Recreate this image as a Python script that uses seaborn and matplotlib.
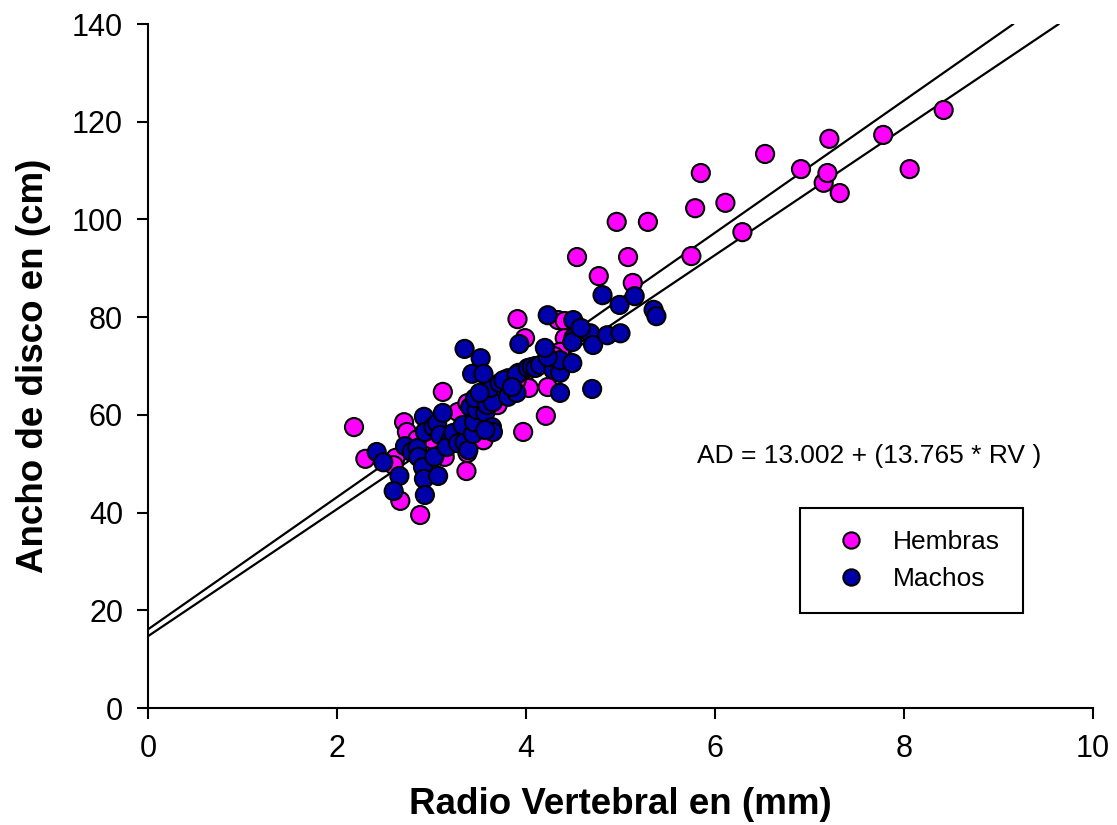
import pandas as pd
import seaborn as sns
import matplotlib.pyplot as plt
from matplotlib.patches import Rectangle

# Hembras (females)
hembras_rv = [2.18, 2.30, 2.67, 2.88, 2.71, 2.74, 2.62, 2.60, 3.12, 3.37, 3.28, 3.38,
              3.14, 3.38, 2.98, 3.55, 3.91, 3.97, 3.99, 4.03, 4.23, 4.21, 4.34, 4.41,
              4.41, 4.36, 4.54, 4.77, 4.96, 5.08, 5.13, 5.29, 5.75, 5.79, 5.85, 6.11,
              6.29, 6.53, 6.91, 7.15, 7.19, 7.21, 7.32, 7.78, 8.06, 8.42,
              3.20, 3.00, 3.50, 3.70, 4.10, 4.30, 3.90, 2.85, 3.45, 4.60]
hembras_ad = [57.5, 51.0, 42.4, 39.5, 58.5, 56.5, 51.2, 49.7, 64.7, 48.5, 60.6, 62.4,
              51.4, 52.2, 52.8, 54.8, 79.6, 56.5, 75.7, 65.5, 65.7, 59.8, 79.4, 79.2,
              75.7, 72.9, 92.3, 88.4, 99.5, 92.3, 87.0, 99.5, 92.5, 102.3, 109.5, 103.4,
              97.4, 113.4, 110.3, 107.5, 109.5, 116.5, 105.4, 117.3, 110.3, 122.4,
              54.0, 55.0, 58.0, 62.0, 70.0, 72.0, 67.0, 55.0, 57.0, 77.0]

# Machos (males)
machos_rv = [2.42, 2.49, 2.66, 2.60, 2.72, 2.79, 2.85, 2.86, 2.91, 2.92, 2.93, 2.92,
             2.93, 3.07, 3.03, 3.02, 3.06, 3.12, 3.09, 3.20, 3.16, 3.23, 3.28, 3.35,
             3.39, 3.33, 3.44, 3.45, 3.41, 3.48, 3.46, 3.55, 3.57, 3.59, 3.65, 3.62,
             3.51, 3.64, 3.65, 3.57, 3.35, 3.52, 3.43, 3.55, 3.72, 3.81, 3.76, 3.92,
             3.90, 4.02, 4.06, 4.10, 4.15, 4.29, 4.36, 4.36, 4.23, 4.20, 4.49, 3.81,
             3.90, 3.85, 3.93, 4.36, 4.70, 4.23, 4.50, 4.50, 4.49, 4.68, 4.71, 4.86,
             5.00, 4.81, 4.99, 5.15, 5.35, 5.38, 4.58]
machos_ad = [52.4, 50.3, 47.5, 44.4, 53.6, 52.4, 53.2, 51.4, 49.3, 46.9, 43.6, 59.6,
             56.5, 47.5, 51.4, 57.5, 58.3, 60.4, 55.9, 54.9, 53.4, 56.3, 54.2, 54.4,
             52.8, 57.9, 56.1, 58.5, 61.6, 61.0, 63.4, 64.1, 60.4, 62.0, 62.6, 65.5,
             64.5, 57.5, 56.5, 56.9, 73.5, 71.6, 68.4, 68.4, 66.5, 67.5, 67.1, 68.6,
             68.2, 69.6, 69.8, 69.6, 70.2, 69.2, 68.6, 71.2, 71.8, 73.7, 70.6, 63.7,
             64.5, 65.7, 74.5, 64.5, 65.3, 80.4, 79.4, 75.7, 74.9, 76.7, 74.3, 76.3,
             76.7, 84.5, 82.5, 84.3, 81.5, 80.2, 77.8]

# regression lines (intercept, slope)
line_intercepts = [16.1, 14.7]
line_slopes = [13.53, 13.0]

equation = "AD = 13.002 + (13.765 * RV )"

df = pd.DataFrame({
    'RV': hembras_rv + machos_rv,
    'AD': hembras_ad + machos_ad,
    'Sexo': ['Hembras'] * len(hembras_rv) + ['Machos'] * len(machos_rv),
})

sns.set_style("ticks", {'axes.edgecolor': 'black', 'text.color': 'black',
                        'axes.labelcolor': 'black', 'xtick.color': 'black',
                        'ytick.color': 'black'})
plt.rcParams['font.family'] = ['Liberation Sans', 'DejaVu Sans']

fig, ax = plt.subplots(figsize=(11.17, 8.25), dpi=100)
fig.subplots_adjust(left=0.1325, right=0.9785, bottom=0.1418, top=0.9709)

for b, m in zip(line_intercepts, line_slopes):
    ax.axline((0, b), slope=m, color='black', lw=1.6, zorder=1)

sns.scatterplot(data=df, x='RV', y='AD', hue='Sexo',
                palette={'Hembras': '#FF00FF', 'Machos': '#0000AA'},
                s=170, edgecolor='black', linewidth=1.5, zorder=3, ax=ax)

ax.set_xlim(0, 10)
ax.set_ylim(0, 140)
ax.set_xticks(range(0, 11, 2))
ax.set_yticks(range(0, 141, 20))
ax.tick_params(direction='out', length=8, width=1.5, labelsize=22, colors='black')
ax.tick_params(axis='x', pad=11)
ax.tick_params(axis='y', pad=10)
for sp in ['left', 'bottom']:
    ax.spines[sp].set_linewidth(1.5)
sns.despine(ax=ax)

ax.set_xlabel('Radio Vertebral en (mm)', fontsize=26.5, fontweight='bold', labelpad=16)
ax.set_ylabel('Ancho de disco en (cm)', fontsize=26.5, fontweight='bold', labelpad=15)

ax.text(5.81, 51.6, equation, fontsize=19, va='center', ha='left')

# legend frame and entries
ax.add_patch(Rectangle((0.69, 0.139), 0.236, 0.153, transform=ax.transAxes,
                       fill=False, edgecolor='black', lw=1.5, zorder=5))
handles, labels = ax.get_legend_handles_labels()
leg = ax.legend(handles, labels, loc='center left', bbox_to_anchor=(0.691, 0.2155),
                frameon=False, fontsize=19, markerscale=0.9,
                handletextpad=0.6, labelspacing=0.5)

fig.savefig("out.png", dpi=100)
